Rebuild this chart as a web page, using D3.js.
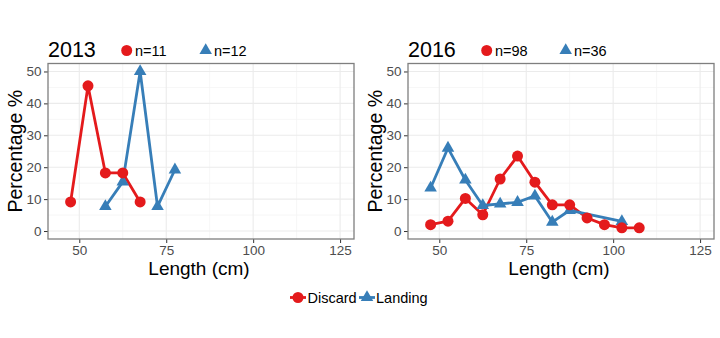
<!DOCTYPE html>
<html>
<head>
<meta charset="utf-8">
<script src="https://cdn.jsdelivr.net/npm/d3@7"></script>
<style>
  html, body { margin: 0; padding: 0; background: #fff; }
  svg { display: block; font-family: "Liberation Sans", Arial, sans-serif; }
</style>
</head>
<body>
<svg id="chart" width="720" height="338"></svg>
<script>
// Length-frequency distributions (percentage of fish per 5 cm length class)
const years = ["2013", "2016"];

const discardLength2013 = [47.5, 52.5, 57.5, 62.5, 67.5];
const discardPct2013    = [9.1, 45.5, 18.2, 18.2, 9.1];
const landingLength2013 = [57.5, 62.5, 67.5, 72.5, 77.5];
const landingPct2013    = [7.7, 15.4, 50.0, 7.7, 19.2];

const discardLength2016 = [47.5, 52.5, 57.5, 62.5, 67.5, 72.5, 77.5, 82.5, 87.5, 92.5, 97.5, 102.5, 107.5];
const discardPct2016    = [2.0, 3.1, 10.2, 5.1, 16.3, 23.5, 15.3, 8.2, 8.2, 4.1, 2.0, 1.0, 1.0];
const landingLength2016 = [47.5, 52.5, 57.5, 62.5, 67.5, 72.5, 77.5, 82.5, 87.5, 102.5];
const landingPct2016    = [13.5, 26.0, 16.0, 8.0, 8.5, 9.0, 11.0, 2.8, 6.5, 3.0];

const sampleSizeDiscard = ["n=11", "n=98"];
const sampleSizeLanding = ["n=12", "n=36"];

const xTicks = [50, 75, 100, 125];
const xMinorTicks = [62.5, 87.5, 112.5];
const yTicks = [0, 10, 20, 30, 40, 50];
const yMinorTicks = [5, 15, 25, 35, 45];

const seriesNames = ["Discard", "Landing"];
const seriesColors = ["#E41A1C", "#377EB8"];

const panelData = [
  { discard: d3.zip(discardLength2013, discardPct2013), landing: d3.zip(landingLength2013, landingPct2013) },
  { discard: d3.zip(discardLength2016, discardPct2016), landing: d3.zip(landingLength2016, landingPct2016) }
];

const svg = d3.select("#chart");

const panelW = 306, panelH = 175.5, panelTop = 63.5;
const panelLefts = [48, 408];

const circleSym = d3.symbol().type(d3.symbolCircle).size(95);
const triSym = d3.symbol().type(d3.symbolTriangle).size(68);

years.forEach((year, i) => {
  const left = panelLefts[i];
  const g = svg.append("g").attr("transform", `translate(${left},${panelTop})`);

  const x = d3.scaleLinear().domain([41, 129]).range([0, panelW]);
  const y = d3.scaleLinear().domain([-2.5, 52.5]).range([panelH, 0]);

  // grid
  g.append("g").selectAll("line").data(xMinorTicks).join("line")
    .attr("x1", d => x(d)).attr("x2", d => x(d)).attr("y1", 0).attr("y2", panelH)
    .attr("stroke", "#F4F4F4").attr("stroke-width", 0.8);
  g.append("g").selectAll("line").data(yMinorTicks).join("line")
    .attr("x1", 0).attr("x2", panelW).attr("y1", d => y(d)).attr("y2", d => y(d))
    .attr("stroke", "#F4F4F4").attr("stroke-width", 0.8);
  g.append("g").selectAll("line").data(xTicks).join("line")
    .attr("x1", d => x(d)).attr("x2", d => x(d)).attr("y1", 0).attr("y2", panelH)
    .attr("stroke", "#EBEBEB").attr("stroke-width", 1.1);
  g.append("g").selectAll("line").data(yTicks).join("line")
    .attr("x1", 0).attr("x2", panelW).attr("y1", d => y(d)).attr("y2", d => y(d))
    .attr("stroke", "#EBEBEB").attr("stroke-width", 1.1);

  // axes
  const xAxis = g.append("g").attr("transform", `translate(0,${panelH})`)
    .call(d3.axisBottom(x).tickValues(xTicks).tickSize(4).tickPadding(2));
  const yAxis = g.append("g")
    .call(d3.axisLeft(y).tickValues(yTicks).tickSize(4).tickPadding(2.5));
  [xAxis, yAxis].forEach(a => {
    a.select(".domain").remove();
    a.selectAll(".tick line").attr("stroke", "#333333").attr("stroke-width", 1);
    a.selectAll(".tick text").attr("fill", "#4D4D4D")
      .style("font-size", "13.5px").style("font-family", "'Liberation Sans', Arial, sans-serif");
  });

  // series
  const line = d3.line().x(d => x(d[0])).y(d => y(d[1]));
  const d = panelData[i];
  g.append("path").datum(d.discard).attr("d", line)
    .attr("fill", "none").attr("stroke", seriesColors[0]).attr("stroke-width", 2.8)
    .attr("stroke-linejoin", "round");
  g.append("path").datum(d.landing).attr("d", line)
    .attr("fill", "none").attr("stroke", seriesColors[1]).attr("stroke-width", 2.8)
    .attr("stroke-linejoin", "round");
  g.append("g").selectAll("path").data(d.landing).join("path")
    .attr("d", triSym).attr("transform", p => `translate(${x(p[0])},${y(p[1])})`)
    .attr("fill", seriesColors[1]);
  g.append("g").selectAll("path").data(d.discard).join("path")
    .attr("d", circleSym).attr("transform", p => `translate(${x(p[0])},${y(p[1])})`)
    .attr("fill", seriesColors[0]);

  // panel border
  g.append("rect").attr("x", 0).attr("y", 0).attr("width", panelW).attr("height", panelH)
    .attr("fill", "none").attr("stroke", "#7F7F7F").attr("stroke-width", 1.3);

  // axis titles
  g.append("text").attr("x", panelW / 2 - 2).attr("y", panelH + 35.5)
    .attr("text-anchor", "middle").style("font-size", "19px").attr("fill", "#000")
    .text("Length (cm)");
  g.append("text").attr("transform", `translate(-26.5,${panelH / 2}) rotate(-90)`)
    .attr("text-anchor", "middle").style("font-size", "19.5px").attr("fill", "#000")
    .text("Percentage %");

  // panel title and sample sizes
  const top = svg.append("g").attr("transform", `translate(${left},0)`);
  top.append("text").attr("x", 0).attr("y", 57).style("font-size", "21.5px").attr("fill", "#000")
    .text(year);
  top.append("path").attr("d", circleSym).attr("transform", "translate(78.7,50.5)").attr("fill", seriesColors[0]);
  top.append("text").attr("x", 87).attr("y", 56).style("font-size", "14.5px").attr("fill", "#000")
    .text(sampleSizeDiscard[i]);
  top.append("path").attr("d", triSym).attr("transform", "translate(157.7,50.5)").attr("fill", seriesColors[1]);
  top.append("text").attr("x", 166).attr("y", 56).style("font-size", "14.5px").attr("fill", "#000")
    .text(sampleSizeLanding[i]);
});

// shared legend
const legend = svg.append("g").attr("transform", "translate(0,297.5)");
const keyCenters = [298, 367];
const textStarts = [307.5, 376];
seriesNames.forEach((name, i) => {
  legend.append("line").attr("x1", keyCenters[i] - 8).attr("x2", keyCenters[i] + 8)
    .attr("y1", 0).attr("y2", 0).attr("stroke", seriesColors[i]).attr("stroke-width", 2.8);
  legend.append("path").attr("d", i === 0 ? circleSym : triSym)
    .attr("transform", `translate(${keyCenters[i]},0)`).attr("fill", seriesColors[i]);
  legend.append("text").attr("x", textStarts[i]).attr("y", 5.2)
    .style("font-size", "14.5px").attr("fill", "#000").text(name);
});
</script>
</body>
</html>
